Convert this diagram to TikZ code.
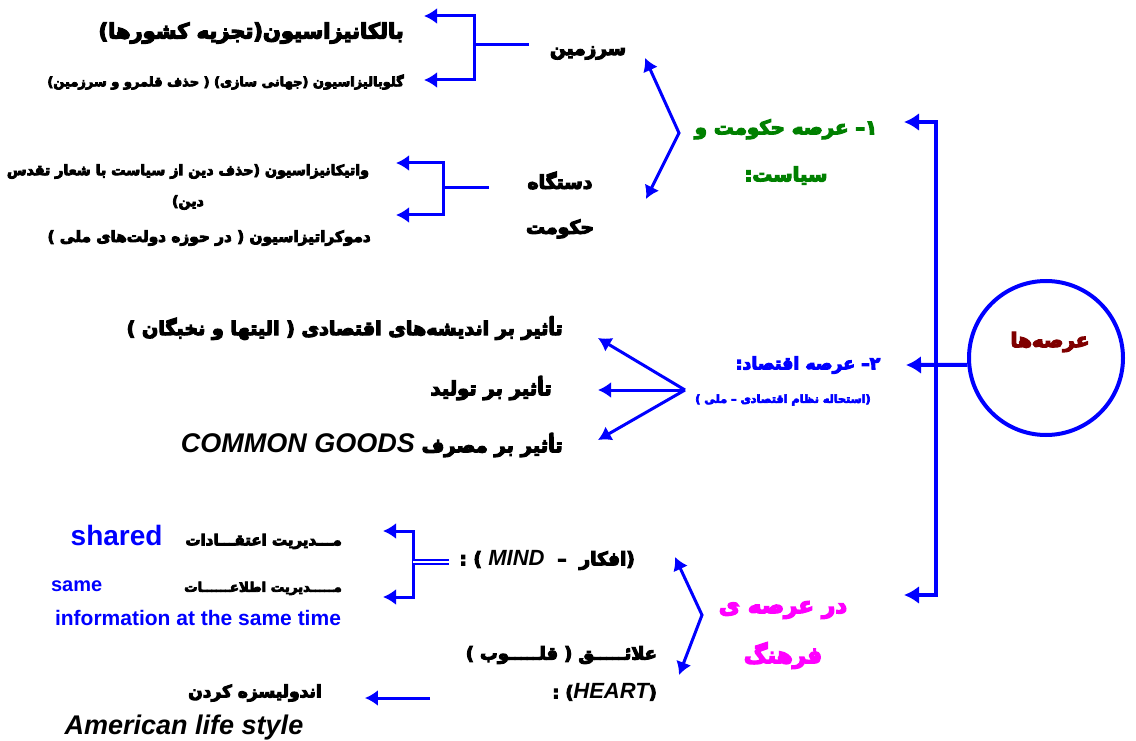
\documentclass[tikz,border=0pt]{standalone}
\usepackage{fontspec}
\setmainfont{Liberation Sans}
\newfontfamily\fa[Script=Arabic,BoldFeatures={FakeBold=6}]{DejaVu Sans}
\TeXXeTstate=1
\usetikzlibrary{shapes}
\usetikzlibrary{arrows,arrows.meta}
\definecolor{sblue}{RGB}{0,0,255}
\definecolor{sgreen}{RGB}{0,128,0}
\definecolor{smaroon}{RGB}{128,0,0}
\definecolor{smagenta}{RGB}{255,0,255}
\newcommand{\fs}[2]{\fontsize{#1}{#2}\selectfont}
\newcommand{\en}{\normalfont\bfseries}

\begin{document}
\begin{tikzpicture}[x=1pt,y=-1pt]
		\tikzstyle{fatxt}=[inner sep=0pt]
		\tikzstyle{link}=[draw=sblue,line width=3pt,>={Latex[length=13pt,width=16pt]}]
		\tikzstyle{trunk}=[draw=sblue,line width=4pt,>={Latex[length=15pt,width=18pt]}]
		\useasboundingbox (0,0) rectangle (1136,741);

		% texts
		\node[fatxt,anchor=east,font=\fa\bfseries\fs{21}{21}] (balkan) at (404,33) {\beginR بالکانیزاسیون(تجزیه کشورها)\endR};
		\node[fatxt,anchor=east,font=\fa\bfseries\fs{13}{13}] (global) at (404,82) {\beginR گلوبالیزاسیون (جهانی سازی) ( حذف قلمرو و سرزمین)\endR};
		\node[fatxt,font=\fa\bfseries\fs{18.5}{18.5}] (sarzamin) at (588,53) {\beginR سرزمین\endR};
		\node[fatxt,align=center,font=\fa\bfseries\fs{14.2}{31}] (vatican) at (188,187) {\beginR واتیکانیزاسیون (حذف دین از سیاست با شعار تقدس\endR\\\beginR دین)\endR};
		\node[fatxt,anchor=east,font=\fa\bfseries\fs{15.3}{15.3}] (democrat) at (371,238) {\beginR دموکراتیزاسیون ( در حوزه دولت‌های ملی )\endR};
		\node[fatxt,align=center,font=\fa\bfseries\fs{18.8}{45}] (dastgah) at (560,205) {\beginR دستگاه\endR\\\beginR حکومت\endR};
		\node[fatxt,align=center,text=sgreen,font=\fa\bfseries\fs{19.7}{47}] (politic) at (786,152) {\beginR ۱– عرصه حکومت و\endR\\\beginR سیاست:\endR};

		\node[circle,trunk,minimum size=154pt] (arena) at (1046,358) {};
		\node[fatxt,text=smaroon,font=\fa\bfseries\fs{20}{20}] (arenatxt) at (1050,342) {\beginR عرصه‌ها\endR};

		\node[fatxt,anchor=east,font=\fa\bfseries\fs{19.1}{19.1}] (idea) at (563,328) {\beginR تأثیر بر اندیشه‌های اقتصادی ( الیتها و نخبگان )\endR};
		\node[fatxt,anchor=east,font=\fa\bfseries\fs{19.5}{19.5}] (prod) at (552,388) {\beginR تأثیر بر تولید\endR};
		\node[fatxt,anchor=east,font=\fa\bfseries\fs{19.5}{19.5}] (consume) at (563,445) {\beginR تأثیر بر مصرف \beginL{\en\itshape\fs{27}{27}COMMON GOODS}\endL\endR};
		\node[fatxt,text=sblue,font=\fa\bfseries\fs{17.3}{17.3}] (eco) at (808,365) {\beginR ۲– عرصه اقتصاد:\endR};
		\node[fatxt,text=sblue,font=\fa\bfseries\fs{11.2}{11.2}] (ecosub) at (783,400) {\beginR (استحاله نظام اقتصادی – ملی )\endR};

		\node[fatxt,anchor=east,font=\fa\bfseries\fs{15}{15}] (belief) at (342,537) {\beginR مـــدیریت اعتقـــادات\hspace{23pt}\beginL{\en\fs{28}{28}\color{sblue}shared}\endL\endR};
		\node[fatxt,anchor=east,font=\fa\bfseries\fs{13.3}{13.3}] (inform) at (342,588) {\beginR مـــــدیریت اطلاعــــــات\hspace{82pt}\beginL{\en\fs{20}{20}\color{sblue}same}\endL\endR};
		\node[fatxt,text=sblue,font=\en\fs{21}{21}] (infotime) at (198,618) {information at the same time};
		\node[fatxt,anchor=east,font=\fa\bfseries\fs{18.5}{18.5}] (mind) at (635,560) {\beginR (افکار \ – \ \beginL{\en\itshape\fs{22}{22}MIND}\endL\ ) :\endR};
		\node[fatxt,anchor=east,font=\fa\bfseries\fs{17.7}{17.7}] (heartfa) at (657,655) {\beginR علائـــــق ( قلـــــوب )\endR};
		\node[fatxt,anchor=east,font=\fa\bfseries\fs{17.5}{17.5}] (heart) at (657,692) {\beginR (\beginL{\en\itshape\fs{22}{22}HEART}\endL) :\endR};
		\node[fatxt,align=center,text=smagenta,font=\fa\bfseries\fs{23}{50}] (culture) at (783,635) {\beginR در عرصه ی\endR\\\beginR فرهنگ\endR};
		\node[fatxt,font=\fa\bfseries\fs{17}{17}] (americanize) at (255,693) {\beginR اندولیسزه کردن\endR};
		\node[fatxt,font=\en\itshape\fs{27}{27}] (lifestyle) at (184,728) {American life style};

		% trunk from the circle
		\coordinate (tpol) at (904,122);
		\coordinate (tcul) at (904,595);
		\coordinate (teco) at (906,365);
		\draw[trunk,<->] (tpol) -- (936,122) -- (936,595) -- (tcul);
		\draw[trunk,->] (arena.185) -- (teco);

		% politics
		\coordinate (vpol) at (679,133);
		\coordinate (tsar) at (645,58);
		\coordinate (tdas) at (646,199);
		\draw[link,<->] (tsar) -- (vpol) -- (tdas);

		\coordinate (sa) at (424,16);
		\coordinate (sb) at (424,80);
		\draw[link,<->] (sa) -- (474,16) -- (474,80) -- (sb);
		\draw[link] (474,45) -- ([xshift=-21pt]sarzamin.west |- 0,45);

		\coordinate (da) at (396,163);
		\coordinate (db) at (396,215);
		\draw[link,<->] (da) -- (443,163) -- (443,215) -- (db);
		\draw[link] (443,188) -- ([xshift=-37pt]dastgah.west |- 0,188);

		% economy
		\coordinate (veco) at (685,390);
		\coordinate (e1) at (598,338);
		\coordinate (e2) at (598,390);
		\coordinate (e3) at (598,440);
		\draw[link,->] (veco) -- (e1);
		\draw[link,->] (veco) -- (e2);
		\draw[link,->] (veco) -- (e3);

		% culture
		\coordinate (vcul) at (702,615);
		\coordinate (cm) at (675,557);
		\coordinate (ch) at (679,675);
		\draw[link,<->] (cm) -- (vcul) -- (ch);

		\coordinate (ma) at (383,531);
		\coordinate (mb) at (383,597);
		\draw[link,<->] (ma) -- (413,531) -- (413,597) -- (mb);
		\draw[sblue,line width=2.5pt,double=white,double distance=1.2pt] (413,562) -- ([xshift=-10pt]mind.west |- 0,562);

		\coordinate (ta) at (430,698);
		\draw[link,->] (ta) -- ([xshift=43pt]americanize.east |- 0,698);
\end{tikzpicture}
\end{document}
